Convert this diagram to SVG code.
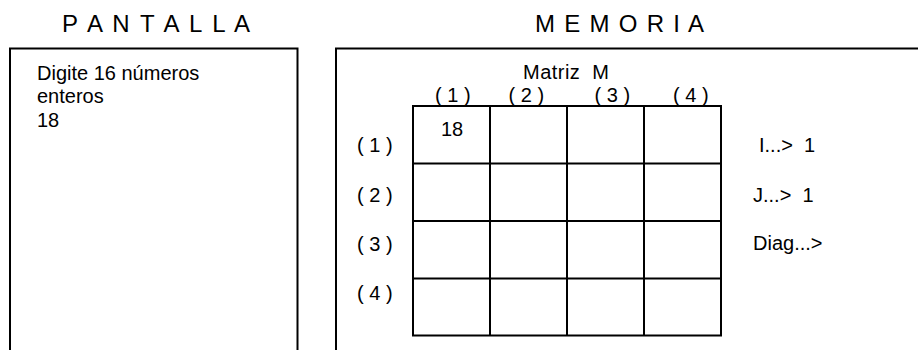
<svg xmlns="http://www.w3.org/2000/svg" width="918" height="350" viewBox="0 0 918 350">
<style>
  text { font-family: "Liberation Sans", Arial, sans-serif; fill: #000; white-space: pre; }
  .title { font-size: 24px; }
  .t { font-size: 20px; }
  .box { fill: none; stroke: #000; stroke-width: 2; }
  .grid { fill: none; stroke: #000; stroke-width: 2; }
</style>
<rect x="0" y="0" width="918" height="350" fill="#fff"/>
<g id="pantalla">
  <text class="title" x="62" y="32" textLength="188" lengthAdjust="spacing">P A N T A L L A</text>
  <path class="box" d="M10,360 V48.5 H297.5 V360"/>
  <text class="t" x="37" y="80">Digite 16 números</text>
  <text class="t" x="37" y="103">enteros</text>
  <text class="t" x="37" y="127">18</text>
</g>
<g id="memoria">
  <text class="title" x="535" y="32" textLength="169" lengthAdjust="spacing">M E M O R I A</text>
  <path class="box" d="M336,360 V48.5 H930"/>
</g>
<g id="matriz">
  <text class="t" x="523" y="79" textLength="86" lengthAdjust="spacing">Matriz  M</text>
  <text class="t" x="435" y="102">( 1 )</text>
  <text class="t" x="508.5" y="102">( 2 )</text>
  <text class="t" x="594.5" y="102">( 3 )</text>
  <text class="t" x="673" y="102">( 4 )</text>
  <text class="t" x="357" y="152">( 1 )</text>
  <text class="t" x="357" y="202">( 2 )</text>
  <text class="t" x="357" y="251">( 3 )</text>
  <text class="t" x="357" y="300">( 4 )</text>
  <path class="grid" d="M413,106 H721 V335.5 H413 Z M490,106 V335.5 M567,106 V335.5 M644,106 V335.5 M413,163.5 H721 M413,221 H721 M413,278.5 H721"/>
  <text class="t" x="441" y="136">18</text>
</g>
<g id="variables">
  <text class="t" x="759" y="152">I...>  1</text>
  <text class="t" x="753" y="202">J...>  1</text>
  <text class="t" x="753" y="250">Diag...></text>
</g>
<g id="connectors"/>
</svg>
